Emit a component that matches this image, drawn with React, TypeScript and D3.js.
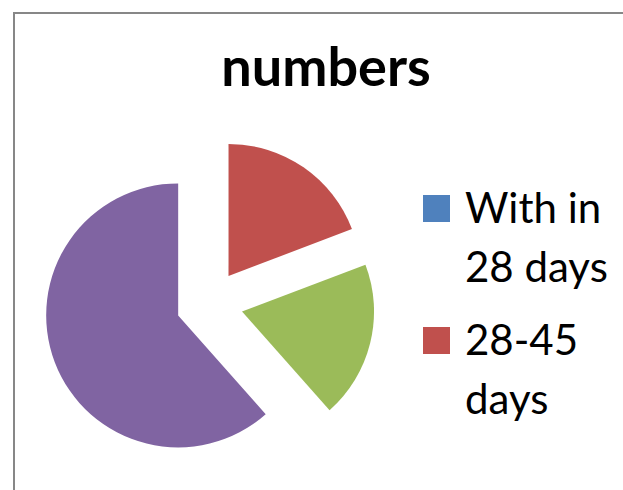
import React, { useEffect, useRef } from "react";
import * as d3 from "d3";

// categories and values (blue slice is empty)
const categories = ["With in 28 days", "28-45 days", "45-60 days", "over 60 days"];
const values = [0, 5, 5, 16];
const colors = ["#4F81BD", "#C0504D", "#9BBB59", "#8064A2"];
// only the first two legend entries fit in the chart frame
const legendLines = [
  ["With in", "28 days"],
  ["28-45", "days"],
];

const App = () => {
  const svgRef = useRef<SVGSVGElement>(null);

  useEffect(() => {
    const width = 623;
    const height = 490;

    const svg = d3.select(svgRef.current)
      .attr("width", width)
      .attr("height", height);
    svg.selectAll("*").remove();

    svg.append("rect")
      .attr("width", width)
      .attr("height", height)
      .attr("fill", "#fff");

    // chart frame, runs off the right and bottom edges
    svg.append("rect")
      .attr("x", 14)
      .attr("y", 13)
      .attr("width", width + 20)
      .attr("height", height + 20)
      .attr("fill", "none")
      .attr("stroke", "#878787")
      .attr("stroke-width", 2);

    // title
    svg.append("text")
      .attr("x", 326)
      .attr("y", 86)
      .attr("text-anchor", "middle")
      .style("font-family", "Lato, 'Open Sans', sans-serif")
      .style("font-weight", "bold")
      .style("font-size", "54px")
      .style("fill", "#000")
      .text("numbers");

    // exploded pie
    const cx = 209.5;
    const cy = 303.5;
    const radius = 132;
    const explode = 33.5;

    const pie = d3.pie<number>().sort(null).value(d => d);
    const arcs = pie(values);
    const arc = d3.arc<d3.PieArcDatum<number>>()
      .innerRadius(0)
      .outerRadius(radius);

    const g = svg.append("g")
      .attr("transform", `translate(${cx},${cy})`);

    g.selectAll("path")
      .data(arcs)
      .join("path")
      .filter(d => d.endAngle > d.startAngle)
      .attr("transform", d => {
        const mid = (d.startAngle + d.endAngle) / 2;
        return `translate(${Math.sin(mid) * explode},${-Math.cos(mid) * explode})`;
      })
      .attr("d", arc)
      .attr("fill", d => colors[d.index]);

    // legend
    const legend = svg.append("g");
    const entryY = [195, 327];
    legendLines.forEach((lines, i) => {
      legend.append("rect")
        .attr("x", 423)
        .attr("y", entryY[i])
        .attr("width", 27)
        .attr("height", 27)
        .attr("fill", colors[i]);

      lines.forEach((line, j) => {
        legend.append("text")
          .attr("x", 465)
          .attr("y", entryY[i] + 28 + j * 59)
          .style("font-family", "Lato, 'Open Sans', sans-serif")
          .style("font-size", "42px")
          .style("fill", "#000")
          .text(line);
      });
    });
  }, []);

  return (
    <svg
      ref={svgRef}
      style={{ position: "absolute", left: 0, top: 0, display: "block" }}
    ></svg>
  );
};

export default App;
